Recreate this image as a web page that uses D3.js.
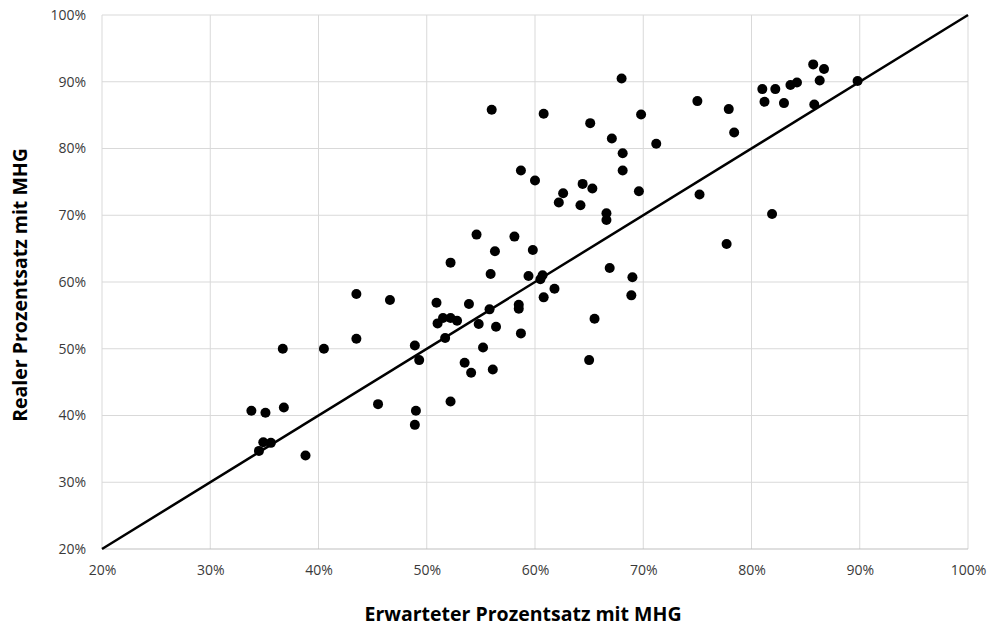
<!DOCTYPE html>
<html>
<head>
<meta charset="utf-8">
<script src="https://cdn.jsdelivr.net/npm/d3@7"></script>
<style>
  body { margin: 0; background: #fff; }
  text { font-family: "Open Sans", "Noto Sans", sans-serif; fill: #404040; }
</style>
</head>
<body>
<div id="chart"></div>
<script>
// Erwarteter (x) vs. realer (y) Prozentsatz mit MHG, in %
var expected = [
    33.8, 35.1, 36.8, 34.9, 35.6, 34.5, 38.8, 36.7, 40.5, 43.5,
    46.6, 43.5, 45.5, 48.9, 49.3, 49.0, 48.9, 52.2, 53.5, 54.1,
    56.1, 55.2, 51.7, 51.0, 51.5, 52.2, 52.8, 54.8, 56.4, 55.8,
    58.5, 58.5, 58.7, 65.0, 65.5, 50.9, 53.9, 52.2, 56.3, 59.8,
    58.1, 55.9, 59.4, 60.7, 60.5, 61.8, 60.8, 66.9, 69.0, 68.9,
    56.0, 58.7, 60.0, 54.6, 68.0, 60.8, 69.8, 65.1, 67.1, 71.2,
    68.1, 68.1, 64.4, 65.3, 62.6, 62.2, 64.2, 69.6, 66.6, 66.6,
    75.0, 77.9, 78.4, 81.0, 82.2, 81.2, 83.0, 83.6, 84.2, 85.7,
    86.7, 86.3, 85.8, 89.8, 75.2, 81.9, 77.7
];
var real = [
    40.7, 40.4, 41.2, 36.0, 35.9, 34.7, 34.0, 50.0, 50.0, 58.2,
    57.3, 51.5, 41.7, 50.5, 48.3, 40.7, 38.6, 42.1, 47.9, 46.4,
    46.9, 50.2, 51.6, 53.8, 54.6, 54.6, 54.2, 53.7, 53.3, 55.9,
    56.6, 56.0, 52.3, 48.3, 54.5, 56.9, 56.7, 62.9, 64.6, 64.8,
    66.8, 61.2, 60.9, 61.0, 60.4, 59.0, 57.7, 62.1, 60.7, 58.0,
    85.8, 76.7, 75.2, 67.1, 90.5, 85.2, 85.1, 83.8, 81.5, 80.7,
    79.3, 76.7, 74.7, 74.0, 73.3, 71.9, 71.5, 73.6, 70.3, 69.3,
    87.1, 85.9, 82.4, 88.9, 88.9, 87.0, 86.8, 89.5, 89.9, 92.6,
    91.9, 90.2, 86.6, 90.1, 73.1, 70.2, 65.7
];
var ticks = [20, 30, 40, 50, 60, 70, 80, 90, 100];
var diagonal = [20, 100];   // Linie y = x

var xTitle = "Erwarteter Prozentsatz mit MHG";
var yTitle = "Realer Prozentsatz mit MHG";

var width = 998, height = 629;
var margin = {top: 15, right: 30, bottom: 80, left: 102};

var svg = d3.select("#chart").append("svg")
    .attr("width", width)
    .attr("height", height);

var x = d3.scaleLinear().domain([20, 100]).range([margin.left, width - margin.right]);
var y = d3.scaleLinear().domain([20, 100]).range([height - margin.bottom, margin.top]);

//grid
svg.append("g").selectAll("line")
    .data(ticks)
    .enter().append("line")
    .attr("x1", function (d) { return x(d); })
    .attr("x2", function (d) { return x(d); })
    .attr("y1", y(100))
    .attr("y2", y(20))
    .style("stroke", "#d9d9d9")
    .style("stroke-width", 1);

svg.append("g").selectAll("line")
    .data(ticks.slice(1))
    .enter().append("line")
    .attr("x1", x(20))
    .attr("x2", x(100))
    .attr("y1", function (d) { return y(d); })
    .attr("y2", function (d) { return y(d); })
    .style("stroke", "#d9d9d9")
    .style("stroke-width", 1);

// bottom axis line a bit darker
svg.append("line")
    .attr("x1", x(20)).attr("x2", x(100))
    .attr("y1", y(20)).attr("y2", y(20))
    .style("stroke", "#bfbfbf")
    .style("stroke-width", 1);

//axes via d3, domain + tick lines hidden
var fmt = function (d) { return d + "%"; };

var xAxis = svg.append("g")
    .attr("transform", "translate(0," + y(20) + ")")
    .call(d3.axisBottom(x).tickValues(ticks).tickFormat(fmt).tickSize(0).tickPadding(16));
var yAxis = svg.append("g")
    .attr("transform", "translate(" + x(20) + ",0)")
    .call(d3.axisLeft(y).tickValues(ticks).tickFormat(fmt).tickSize(0).tickPadding(16));

[xAxis, yAxis].forEach(function (a) {
    a.select(".domain").remove();
    a.selectAll("text")
        .style("font-family", "\"Open Sans\", sans-serif")
        .style("font-size", "14px")
        .style("fill", "#3a3a3a");
});

//diagonal
svg.append("line")
    .attr("x1", x(diagonal[0]))
    .attr("y1", y(diagonal[0]))
    .attr("x2", x(diagonal[1]))
    .attr("y2", y(diagonal[1]))
    .style("stroke", "#000")
    .style("stroke-width", 2.5);

//points
svg.append("g").selectAll("circle")
    .data(expected)
    .enter().append("circle")
    .attr("cx", function (d) { return x(d); })
    .attr("cy", function (d, i) { return y(real[i]); })
    .attr("r", 5)
    .style("fill", "#000");

//titles
svg.append("text")
    .attr("x", (x(20) + x(100)) / 2 - 12)
    .attr("y", 621)
    .attr("text-anchor", "middle")
    .style("font-size", "19.5px")
    .style("font-weight", "bold")
    .style("fill", "#000")
    .text(xTitle);

svg.append("text")
    .attr("transform", "translate(27," + ((y(20) + y(100)) / 2 + 3) + ") rotate(-90)")
    .attr("text-anchor", "middle")
    .style("font-size", "19.5px")
    .style("font-weight", "bold")
    .style("fill", "#000")
    .text(yTitle);
</script>
</body>
</html>
